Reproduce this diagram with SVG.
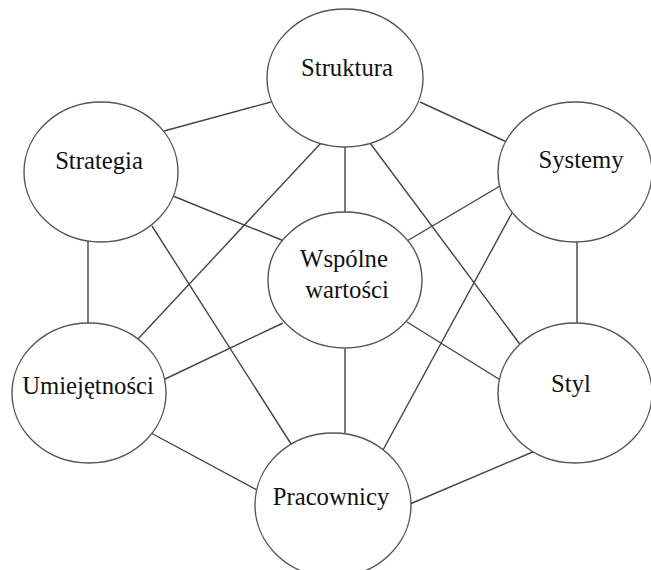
<svg xmlns="http://www.w3.org/2000/svg" width="651" height="570" viewBox="0 0 651 570">
<style>
.c{fill:#fff;stroke:#555;stroke-width:1.4}
.l{stroke:#444;stroke-width:1.4;fill:none}
text{font-family:"Liberation Serif","Times New Roman",serif;font-size:24.7px;fill:#111;text-anchor:middle}
</style>
<rect width="651" height="570" fill="#fff"/>
<g id="connectors">
<line class="l" x1="164" y1="131" x2="271" y2="102"/>
<line class="l" x1="420" y1="102" x2="509" y2="143"/>
<line class="l" x1="345" y1="145" x2="345" y2="215"/>
<line class="l" x1="321" y1="143" x2="138" y2="339"/>
<line class="l" x1="370" y1="143" x2="522" y2="347"/>
<line class="l" x1="173" y1="196" x2="284" y2="241"/>
<line class="l" x1="88" y1="240" x2="88" y2="325"/>
<line class="l" x1="152" y1="226" x2="293" y2="447"/>
<line class="l" x1="500" y1="186" x2="407" y2="241"/>
<line class="l" x1="577" y1="240" x2="577" y2="325"/>
<line class="l" x1="513" y1="211" x2="383" y2="450"/>
<line class="l" x1="283" y1="323" x2="163" y2="380"/>
<line class="l" x1="407" y1="322" x2="502" y2="381"/>
<line class="l" x1="345" y1="349" x2="345" y2="437"/>
<line class="l" x1="151" y1="433" x2="257" y2="490"/>
<line class="l" x1="535" y1="451" x2="410" y2="504"/>
</g>
<g id="struktura"><ellipse class="c" cx="345" cy="78" rx="78" ry="69"/><text x="347" y="76">Struktura</text></g>
<g id="strategia"><ellipse class="c" cx="101" cy="172" rx="77" ry="70"/><text x="99" y="169">Strategia</text></g>
<g id="systemy"><ellipse class="c" cx="575" cy="172" rx="77" ry="70"/><text x="581" y="168">Systemy</text></g>
<g id="wspolne"><ellipse class="c" cx="345" cy="280" rx="77" ry="68"/><text x="344" y="267">Wspólne</text><text x="347" y="298">wartości</text></g>
<g id="umiejetnosci"><ellipse class="c" cx="89" cy="393" rx="77" ry="70"/><text x="88" y="394">Umiejętności</text></g>
<g id="styl"><ellipse class="c" cx="575" cy="393" rx="77" ry="70"/><text x="571" y="392">Styl</text></g>
<g id="pracownicy"><ellipse class="c" cx="333" cy="505" rx="78" ry="72"/><text x="331" y="505">Pracownicy</text></g>
</svg>
